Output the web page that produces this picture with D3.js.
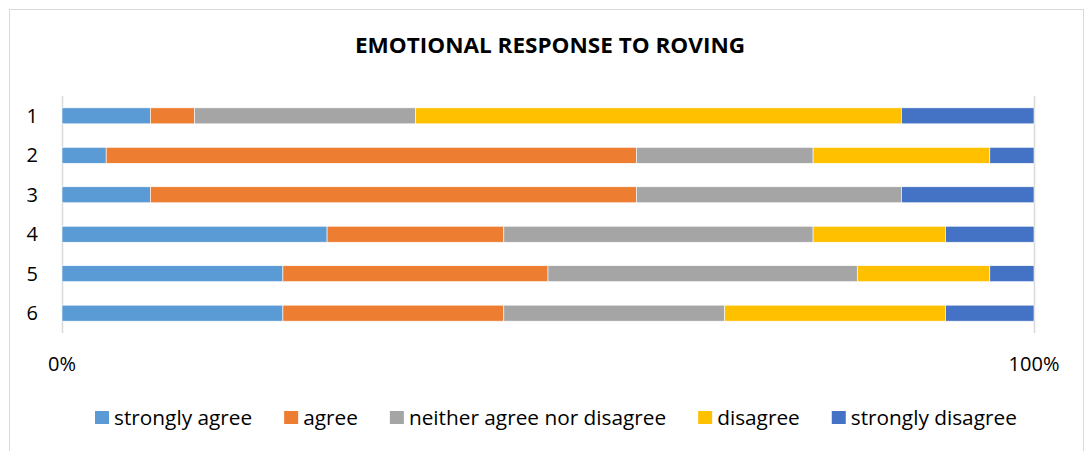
<!DOCTYPE html>
<html><head><meta charset="utf-8">
<script src="https://cdn.jsdelivr.net/npm/d3@7"></script>
<style>html,body{margin:0;padding:0;background:#fff;}svg{display:block;}</style>
</head><body>
<svg id="c" width="1086" height="451"></svg>
<script>
const categories = ["1","2","3","4","5","6"];
const seriesNames = ["strongly agree","agree","neither agree nor disagree","disagree","strongly disagree"];
const stronglyAgree = [2,1,2,6,5,5];
const agree = [1,12,11,4,6,5];
const neither = [5,4,6,7,7,5];
const disagree = [11,4,0,3,3,5];
const stronglyDisagree = [3,1,3,2,1,2];
const colors = ["#5B9BD5","#ED7D31","#A5A5A5","#FFC000","#4472C4"];
const tickLabels = ["0%","100%"];
const title = "EMOTIONAL RESPONSE TO ROVING";

const svg = d3.select("#c");
const font = "'Open Sans', 'Liberation Sans', sans-serif";

svg.append("rect").attr("x",9.5).attr("y",9.5).attr("width",1074).attr("height",450)
  .attr("fill","#fff").attr("stroke","#D9D9D9").attr("stroke-width",1);

svg.append("text").attr("x",550).attr("y",53).attr("text-anchor","middle")
  .attr("font-family",font).attr("font-weight","bold").attr("font-size",20.5)
  .attr("fill","#000").attr("textLength",390).attr("lengthAdjust","spacingAndGlyphs").text(title);

const rows = categories.map((c,i)=>{
  const vals=[stronglyAgree[i],agree[i],neither[i],disagree[i],stronglyDisagree[i]];
  const tot=d3.sum(vals); const o={cat:c};
  seriesNames.forEach((s,j)=>o[s]=vals[j]/tot); return o;
});
const stack = d3.stack().keys(seriesNames)(rows);

const x = d3.scaleLinear().domain([0,1]).range([62,1034]);
const y = d3.scaleBand().domain(categories).range([96,333]).paddingInner(0.595).paddingOuter(0.3);

// gridlines
svg.append("g").selectAll("line").data([0,1]).join("line")
  .attr("x1",d=>x(d)+0.5).attr("x2",d=>x(d)+0.5).attr("y1",96).attr("y2",333)
  .attr("stroke","#D9D9D9").attr("stroke-width",1.5);

svg.append("g").selectAll("g").data(stack).join("g")
  .attr("fill",(d,i)=>colors[i])
  .selectAll("rect").data(d=>d).join("rect")
  .attr("x",d=>x(d[0])).attr("width",d=>x(d[1])-x(d[0]))
  .attr("y",d=>y(d.data.cat)).attr("height",y.bandwidth())
  .attr("stroke","#fff").attr("stroke-width",0.6);

// y labels
svg.append("g").selectAll("text").data(categories).join("text")
  .attr("x",38).attr("y",d=>y(d)+y.bandwidth()/2+7)
  .attr("text-anchor","end").attr("font-family",font).attr("font-size",20).attr("fill","#000")
  .text(d=>d);

// x labels
svg.append("g").selectAll("text").data(tickLabels).join("text")
  .attr("x",(d,i)=>x(i)).attr("y",371)
  .attr("text-anchor","middle").attr("font-family",font).attr("font-size",20).attr("fill","#000")
  .text(d=>d);

// legend
const lg = svg.append("g");
let cx = 95;
const ly = 425;
seriesNames.forEach((s,i)=>{
  lg.append("rect").attr("x",cx).attr("y",ly-14).attr("width",14).attr("height",13).attr("fill",colors[i]);
  const t = lg.append("text").attr("x",cx+19).attr("y",ly)
    .attr("font-family",font).attr("font-size",20.8).attr("fill","#000").text(s);
  const w = t.node().getComputedTextLength();
  cx += 19 + w + 32;
});
</script>
</body></html>
